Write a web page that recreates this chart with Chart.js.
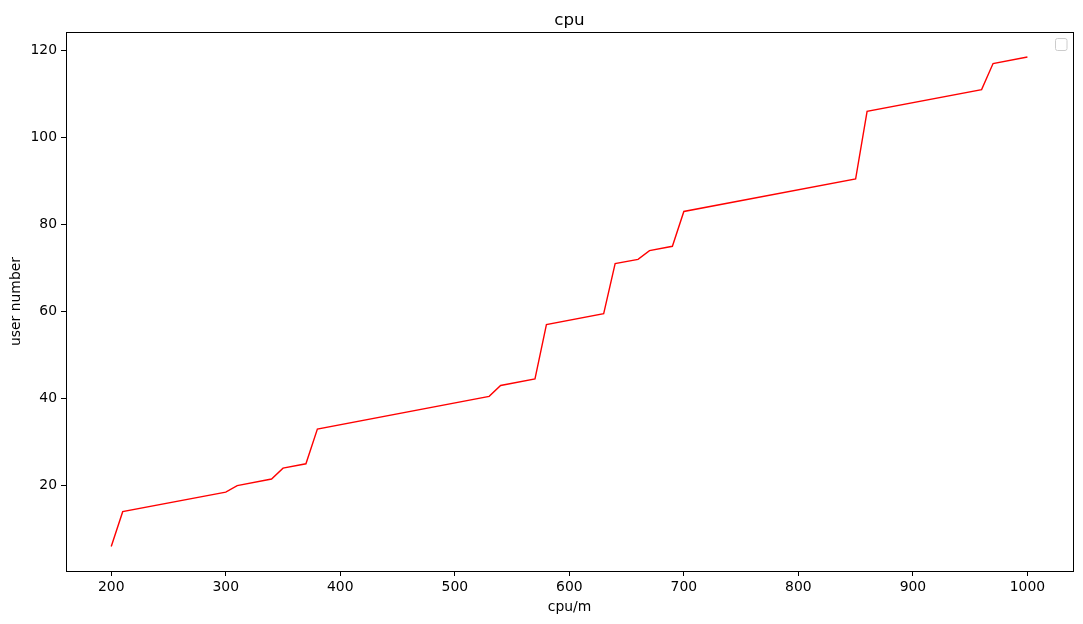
<!DOCTYPE html>
<html>
<head>
<meta charset="utf-8">
<script src="https://cdn.jsdelivr.net/npm/chart.js@4"></script>
<style>
html,body{margin:0;padding:0;background:#fff;}
#wrap{width:1083px;height:624px;position:relative;}
</style>
</head>
<body>
<div id="wrap"><canvas id="c" width="1083" height="624"></canvas></div>
<script>
const cpuValues = [200, 210, 300, 310, 340, 350, 370, 380, 530, 540, 570, 580, 630, 640, 660, 670, 690, 700, 850, 860, 960, 970, 1000];
const userNumbers = [6, 14, 18.5, 20, 21.5, 24, 25, 33, 40.5, 43, 44.5, 57, 59.5, 71, 72, 74, 75, 83, 90.5, 106, 111, 117, 118.5];
const xTickValues = [200, 300, 400, 500, 600, 700, 800, 900, 1000];
const yTickValues = [20, 40, 60, 80, 100, 120];
const titleText = 'cpu';
const xLabel = 'cpu/m';
const yLabel = 'user number';

const FONT = "'DejaVu Sans', sans-serif";
const TICK_PX = 13.9;

const framePlugin = {
  id: 'frame',
  afterDraw(chart) {
    const {ctx, chartArea: a} = chart;
    ctx.save();
    ctx.strokeStyle = '#000';
    ctx.lineWidth = 1;
    ctx.strokeRect(Math.round(a.left) + 0.5, Math.round(a.top) + 0.5, Math.round(a.right - a.left), Math.round(a.bottom - a.top));
    // title
    ctx.fillStyle = '#000';
    ctx.font = '16.7px ' + FONT;
    ctx.textAlign = 'center';
    ctx.textBaseline = 'alphabetic';
    ctx.fillText(titleText, (a.left + a.right) / 2, 25);
    // empty legend frame
    const x = a.right - 18, y = a.top + 6, w = 11.5, h = 12;
    ctx.beginPath();
    ctx.roundRect(x + 0.5, y + 0.5, w, h, 2);
    ctx.fillStyle = 'rgba(255,255,255,0.8)';
    ctx.fill();
    ctx.strokeStyle = '#cccccc';
    ctx.lineWidth = 1;
    ctx.stroke();
    ctx.restore();
  }
};

new Chart(document.getElementById('c'), {
  type: 'line',
  data: {
    datasets: [{
      data: cpuValues.map((x, i) => ({x: x, y: userNumbers[i]})),
      borderColor: '#ff0000',
      borderWidth: 1.4,
      pointRadius: 0,
      fill: false,
      tension: 0
    }]
  },
  options: {
    responsive: false,
    animation: false,
    layout: {padding: {top: 32, right: 10, left: 0, bottom: 0}},
    plugins: {legend: {display: false}, tooltip: {enabled: false}, title: {display: false}},
    scales: {
      x: {
        type: 'linear',
        min: 160.5, max: 1039.8,
        afterBuildTicks(scale) { scale.ticks = xTickValues.map(v => ({value: v})); },
        afterFit(scale) { scale.height = 53; },
        grid: {display: true, drawOnChartArea: false, drawTicks: true, tickLength: 5, color: '#000', tickColor: '#000'},
        border: {display: true, color: '#000'},
        ticks: {color: '#000', font: {family: FONT, size: TICK_PX}, padding: 3, maxRotation: 0, autoSkip: false,
                callback: v => String(v)},
        title: {display: true, text: xLabel, color: '#000', font: {family: FONT, size: TICK_PX}, padding: {top: 0, bottom: 8}}
      },
      y: {
        type: 'linear',
        min: 0.36, max: 124.25,
        afterBuildTicks(scale) { scale.ticks = yTickValues.map(v => ({value: v})); },
        afterFit(scale) { scale.width = 66; },
        grid: {display: true, drawOnChartArea: false, drawTicks: true, tickLength: 5, color: '#000', tickColor: '#000'},
        border: {display: true, color: '#000'},
        ticks: {color: '#000', font: {family: FONT, size: TICK_PX}, padding: 4, autoSkip: false,
                callback: v => String(v)},
        title: {display: true, text: yLabel, color: '#000', font: {family: FONT, size: TICK_PX}, padding: {top: 8, bottom: 0}}
      }
    }
  },
  plugins: [framePlugin]
});
</script>
</body>
</html>
